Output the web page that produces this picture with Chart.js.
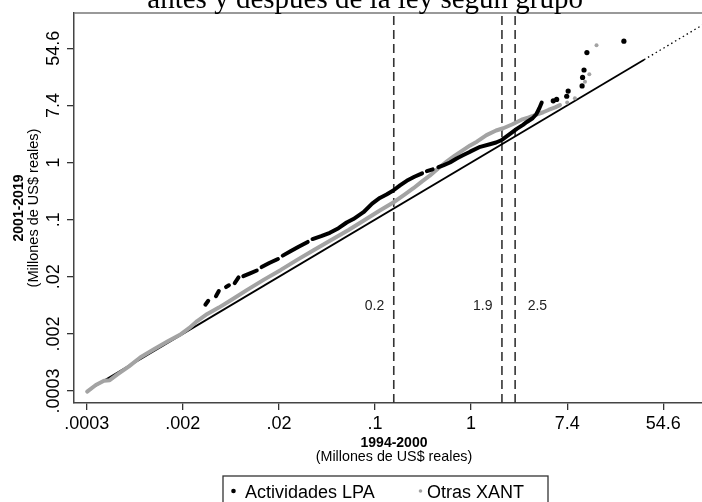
<!DOCTYPE html>
<html>
<head>
<meta charset="utf-8">
<script src="https://cdn.jsdelivr.net/npm/chart.js@4/dist/chart.umd.min.js"></script>
<style>
    html, body { margin: 0; padding: 0; overflow: hidden; background: #fff; }
    #wrap { width: 760px; height: 502px; }
</style>
</head>
<body>
<div id="wrap"><canvas id="qq" width="760" height="502"></canvas></div>
<script>
// ejes en logaritmo natural de millones de US$ reales
const xTickValues = [-8, -6, -4, -2, 0, 2, 4];
const xTickLabels = [".0003", ".002", ".02", ".1", "1", "7.4", "54.6"];
const yTickValues = [-8, -6, -4, -2, 0, 2, 4];
const yTickLabels = [".0003", ".002", ".02", ".1", "1", "7.4", "54.6"];

const seriesNames = ["Actividades LPA", "Otras XANT"];

// cuantiles [ln 1994-2000, ln 2001-2019]; null = hueco en la nube
const lpaBand = [
    [-5.53, -4.98], [-5.47, -4.84], null,
    [-5.31, -4.68], [-5.25, -4.50], null,
    [-5.10, -4.36], [-5.04, -4.30], null,
    [-4.92, -4.22], [-4.84, -4.02], null,
    [-4.74, -3.98], [-4.60, -3.88], [-4.46, -3.78], null,
    [-4.36, -3.66], [-4.20, -3.52], [-4.02, -3.38], null,
    [-3.92, -3.26], [-3.75, -3.10], [-3.58, -2.94], [-3.40, -2.78], null,
    [-3.30, -2.68], [-3.12, -2.58], [-2.94, -2.46], [-2.76, -2.30], [-2.59, -2.10],
    [-2.45, -1.98], [-2.24, -1.74], [-2.06, -1.44], [-1.90, -1.24], [-1.76, -1.12],
    [-1.62, -0.98], [-1.48, -0.80], [-1.34, -0.64], [-1.18, -0.50], [-1.02, -0.38], null,
    [-0.92, -0.30], [-0.80, -0.24], null,
    [-0.68, -0.16], [-0.58, -0.10], [-0.44, 0.00], [-0.30, 0.14], [-0.16, 0.26],
    [-0.02, 0.38], [0.19, 0.55], [0.39, 0.64], [0.52, 0.70], [0.64, 0.79],
    [0.81, 1.00], [0.95, 1.18], [1.08, 1.32], [1.16, 1.42], [1.28, 1.55],
    [1.36, 1.70], [1.42, 1.90], [1.47, 2.10],
];
const lpaOutliers = [
    [1.71, 2.16], [1.78, 2.21], [1.99, 2.32], [2.02, 2.50], [2.31, 2.68],
    [2.32, 2.98], [2.35, 3.24], [2.41, 3.85], [3.18, 4.25],
];
const xantBand = [
    [-7.99, -8.02], [-7.81, -7.79], [-7.64, -7.64], [-7.52, -7.62], [-7.36, -7.42],
    [-7.12, -7.14], [-6.88, -6.82], [-6.60, -6.54], [-6.32, -6.27], [-6.04, -6.01],
    [-5.87, -5.80], [-5.70, -5.55], [-5.49, -5.30], [-5.25, -5.08], [-5.00, -4.82],
    [-4.66, -4.46], [-4.31, -4.10], [-3.96, -3.76], [-3.62, -3.41], [-3.27, -3.06],
    [-2.92, -2.72], [-2.55, -2.36], [-2.24, -2.04], [-1.90, -1.68], [-1.62, -1.40],
    [-1.40, -1.14], [-1.20, -0.90], [-1.02, -0.66], [-0.86, -0.46], [-0.68, -0.20],
    [-0.51, 0.03], [-0.34, 0.24], [-0.16, 0.44], [-0.02, 0.60], [0.12, 0.73],
    [0.32, 0.96], [0.52, 1.12], [0.67, 1.20], [0.85, 1.33], [1.05, 1.50],
    [1.20, 1.58], [1.33, 1.66], [1.50, 1.76], [1.61, 1.84], [1.75, 1.93], [1.85, 2.01],
];
const xantOutliers = [
    [2.00, 2.10], [2.16, 2.25], [2.37, 2.83], [2.46, 3.09], [2.61, 4.11],
];

// recta de 45 grados y umbrales (millones de US$)
const diagonalSolid = [[-7.9, -7.9], [3.6, 3.6]];
const diagonalTail = [[3.6, 3.6], [5.1, 5.1]];
const cutoffs = [0.2, 1.9, 2.5];
const cutoffLabels = ["0.2", "1.9", "2.5"];

const X_MIN = -8.264, X_MAX = 5.055;
const Y_MIN = -8.42, Y_MAX = 5.235;
const SANS = "'Liberation Sans', Arial, sans-serif";
const GRAY = "#a3a3a3";

const toPoints = (arr) => arr.map(p => p ? { x: p[0], y: p[1] } : { x: null, y: null });

const cutoffSets = cutoffs.map(v => ({
    label: "corte " + v,
    data: [{ x: Math.log(v), y: Y_MIN }, { x: Math.log(v), y: Y_MAX }],
    showLine: true,
    borderColor: "#333",
    borderWidth: 1.6,
    borderDash: [9, 5],
    pointRadius: 0,
    order: 5,
}));

const decor = {
    id: "decor",
    afterDraw(chart) {
        const ctx = chart.ctx;
        const area = chart.chartArea;
        const xs = chart.scales.x;
        const ys = chart.scales.y;
        ctx.save();

        // marco superior
        ctx.strokeStyle = "#777";
        ctx.lineWidth = 1.5;
        ctx.beginPath();
        ctx.moveTo(area.left, area.top);
        ctx.lineTo(area.right, area.top);
        ctx.stroke();

        // titulo (recortado arriba)
        ctx.fillStyle = "#000";
        ctx.font = "29px 'Liberation Serif', 'Times New Roman', serif";
        ctx.textAlign = "right";
        ctx.textBaseline = "alphabetic";
        ctx.fillText("antes y después de la ley según grupo", 583, 8);

        // etiquetas de umbrales
        ctx.font = "14px " + SANS;
        ctx.fillStyle = "#222";
        ctx.textBaseline = "middle";
        cutoffs.forEach((v, i) => {
            const px = xs.getPixelForValue(Math.log(v));
            const py = ys.getPixelForValue(-5.02);
            if (i < 2) {
                ctx.textAlign = "right";
                ctx.fillText(cutoffLabels[i], px - 9.5, py);
            } else {
                ctx.textAlign = "left";
                ctx.fillText(cutoffLabels[i], px + 12.5, py);
            }
        });

        // titulo eje x
        ctx.fillStyle = "#000";
        ctx.textAlign = "center";
        ctx.textBaseline = "alphabetic";
        const cx = (area.left + area.right) / 2;
        ctx.font = "bold 14px " + SANS;
        ctx.fillText("1994-2000", cx, 446.5);
        ctx.font = "14.3px " + SANS;
        ctx.fillText("(Millones de US$ reales)", cx, 460.5);

        // titulo eje y
        const cy = (area.top + area.bottom) / 2;
        ctx.save();
        ctx.translate(23, cy);
        ctx.rotate(-Math.PI / 2);
        ctx.font = "bold 14px " + SANS;
        ctx.fillText("2001-2019", 0, 0);
        ctx.restore();
        ctx.save();
        ctx.translate(37.5, cy);
        ctx.rotate(-Math.PI / 2);
        ctx.font = "14.5px " + SANS;
        ctx.fillText("(Millones de US$ reales)", 0, 0);
        ctx.restore();

        // leyenda
        ctx.strokeStyle = "#333";
        ctx.lineWidth = 1.3;
        ctx.strokeRect(223, 476, 325, 60);
        ctx.fillStyle = "#000";
        ctx.beginPath();
        ctx.arc(233.5, 491, 2.3, 0, Math.PI * 2);
        ctx.fill();
        ctx.fillStyle = GRAY;
        ctx.beginPath();
        ctx.arc(420.5, 491, 1.8, 0, Math.PI * 2);
        ctx.fill();
        ctx.fillStyle = "#000";
        ctx.font = "18px " + SANS;
        ctx.textAlign = "left";
        ctx.fillText(seriesNames[0], 245, 497.5);
        ctx.fillText(seriesNames[1], 427, 497.5);

        ctx.restore();
    },
};

new Chart(document.getElementById("qq"), {
    type: "scatter",
    data: {
        datasets: [
            {
                label: seriesNames[0],
                data: toPoints(lpaBand),
                showLine: true,
                spanGaps: false,
                borderColor: "#000",
                borderWidth: 4,
                borderCapStyle: "round",
                borderJoinStyle: "round",
                pointRadius: 0,
                order: 0,
            },
            {
                label: seriesNames[0],
                data: toPoints(lpaOutliers),
                backgroundColor: "#000",
                borderWidth: 0,
                pointRadius: 2.6,
                order: 0,
            },
            {
                label: seriesNames[1],
                data: toPoints(xantBand),
                showLine: true,
                spanGaps: false,
                borderColor: GRAY,
                borderWidth: 4,
                borderCapStyle: "round",
                borderJoinStyle: "round",
                pointRadius: 0,
                order: 1,
            },
            {
                label: seriesNames[1],
                data: toPoints(xantOutliers),
                backgroundColor: GRAY,
                borderWidth: 0,
                pointRadius: 2,
                order: 1,
            },
            {
                label: "45 grados",
                data: toPoints(diagonalSolid),
                showLine: true,
                borderColor: "#000",
                borderWidth: 1.8,
                pointRadius: 0,
                order: 3,
            },
            {
                label: "45 grados (cola)",
                data: toPoints(diagonalTail),
                showLine: true,
                borderColor: "#000",
                borderWidth: 1.3,
                borderDash: [1.5, 3],
                pointRadius: 0,
                order: 3,
            },
            ...cutoffSets,
        ],
    },
    options: {
        responsive: false,
        animation: false,
        events: [],
        layout: { padding: { top: 13, right: 46, left: 0, bottom: 0 } },
        plugins: {
            legend: { display: false },
            title: { display: false },
            tooltip: { enabled: false },
        },
        scales: {
            x: {
                type: "linear",
                min: X_MIN,
                max: X_MAX,
                afterBuildTicks: (s) => { s.ticks = xTickValues.map(v => ({ value: v })); },
                afterFit: (s) => { s.height = 99; },
                grid: { drawOnChartArea: false, drawTicks: true, tickLength: 7, color: "#333", lineWidth: 1.3 },
                border: { display: true, color: "#444", width: 1.5 },
                ticks: {
                    autoSkip: false,
                    maxRotation: 0,
                    padding: 3,
                    color: "#000",
                    font: { family: SANS, size: 18 },
                    callback: (v, i) => xTickLabels[i],
                },
            },
            y: {
                type: "linear",
                min: Y_MIN,
                max: Y_MAX,
                afterBuildTicks: (s) => { s.ticks = yTickValues.map(v => ({ value: v })); },
                afterFit: (s) => { s.width = 74; },
                grid: { drawOnChartArea: false, drawTicks: true, tickLength: 7, color: "#333", lineWidth: 1.3 },
                border: { display: true, color: "#444", width: 1.5 },
                ticks: {
                    autoSkip: false,
                    minRotation: 90,
                    maxRotation: 90,
                    crossAlign: "center",
                    padding: -9.5,
                    color: "#000",
                    font: { family: SANS, size: 18 },
                    callback: (v, i) => yTickLabels[i],
                },
            },
        },
    },
    plugins: [decor],
});
</script>
</body>
</html>
